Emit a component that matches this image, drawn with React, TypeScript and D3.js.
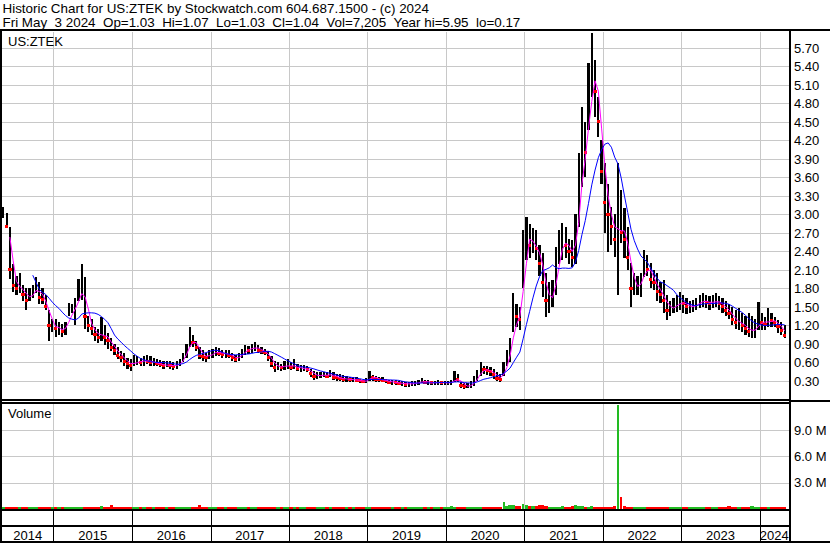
import React from "react";
import * as d3 from "d3";

// Semi-monthly periods, May 2014 - May 2024 (240 periods)
const HIGH = [
  3.12, 3.02, 2.8, 2.2, 2.0, 2.05, 1.85, 1.8, 1.8, 1.85, 1.98, 1.9, 1.8, 1.7, 1.45, 1.3,
  1.3, 1.25, 1.22, 1.25, 1.56, 1.55, 1.65, 1.95, 2.2, 1.98, 1.35, 1.3, 1.18, 1.15, 1.34, 1.2,
  1.08, 1.0, 0.9, 0.85, 0.78, 0.75, 0.68, 0.65, 0.72, 0.7, 0.68, 0.7, 0.72, 0.7, 0.68, 0.66,
  0.64, 0.62, 0.63, 0.62, 0.6, 0.62, 0.66, 0.75, 0.9, 1.18, 1.05, 0.95, 0.85, 0.8, 0.75, 0.8,
  0.82, 0.85, 0.83, 0.8, 0.8, 0.8, 0.75, 0.72, 0.75, 0.82, 0.88, 0.86, 0.9, 0.93, 0.88, 0.85,
  0.82, 0.78, 0.7, 0.62, 0.6, 0.58, 0.62, 0.65, 0.6, 0.65, 0.58, 0.56, 0.56, 0.55, 0.5, 0.46,
  0.44, 0.44, 0.45, 0.44, 0.48, 0.44, 0.42, 0.42, 0.4, 0.38, 0.37, 0.37, 0.36, 0.33, 0.32, 0.35,
  0.46, 0.4, 0.38, 0.37, 0.36, 0.34, 0.32, 0.32, 0.31, 0.3, 0.3, 0.29, 0.29, 0.3, 0.3, 0.32,
  0.35, 0.32, 0.31, 0.3, 0.3, 0.31, 0.3, 0.3, 0.3, 0.31, 0.46, 0.42, 0.28, 0.26, 0.26, 0.3,
  0.38, 0.48, 0.6, 0.55, 0.55, 0.53, 0.5, 0.45, 0.42, 0.6, 0.8, 1.0, 1.73, 1.55, 1.5, 2.75,
  2.96, 2.85, 2.78, 2.75, 2.5, 2.37, 2.05, 1.9, 1.94, 2.47, 2.75, 2.86, 2.8, 2.6, 2.59, 3.0,
  4.0, 4.74, 4.5, 5.45, 5.94, 5.5, 4.9, 4.2, 3.83, 3.5, 3.12, 3.0, 3.83, 3.4, 3.1, 2.8,
  2.21, 2.05, 2.0, 2.05, 2.42, 2.35, 2.21, 2.1, 2.05, 1.9, 1.94, 1.7, 1.6, 1.65, 1.7, 1.75,
  1.7, 1.65, 1.6, 1.62, 1.65, 1.7, 1.72, 1.7, 1.68, 1.7, 1.72, 1.68, 1.65, 1.6, 1.55, 1.5,
  1.45, 1.48, 1.4, 1.35, 1.4, 1.35, 1.3, 1.58, 1.4, 1.34, 1.48, 1.4, 1.34, 1.29, 1.25, 1.21,
];
const LOW = [
  2.95, 2.78, 1.95, 1.75, 1.7, 1.72, 1.6, 1.45, 1.6, 1.65, 1.72, 1.55, 1.55, 1.45, 0.95, 1.1,
  1.02, 1.05, 1.02, 1.05, 1.35, 1.4, 1.2, 1.6, 1.62, 1.15, 1.1, 1.05, 0.95, 0.92, 0.95, 0.88,
  0.82, 0.78, 0.72, 0.65, 0.6, 0.55, 0.5, 0.46, 0.55, 0.56, 0.54, 0.55, 0.58, 0.55, 0.55, 0.54,
  0.52, 0.5, 0.52, 0.5, 0.48, 0.5, 0.54, 0.6, 0.68, 0.85, 0.85, 0.78, 0.65, 0.62, 0.6, 0.65,
  0.68, 0.7, 0.7, 0.68, 0.68, 0.68, 0.63, 0.61, 0.62, 0.68, 0.72, 0.74, 0.76, 0.78, 0.76, 0.74,
  0.72, 0.62, 0.52, 0.45, 0.48, 0.46, 0.48, 0.5, 0.48, 0.5, 0.46, 0.45, 0.46, 0.44, 0.36, 0.32,
  0.34, 0.35, 0.36, 0.35, 0.36, 0.32, 0.3, 0.3, 0.28, 0.29, 0.28, 0.28, 0.28, 0.27, 0.26, 0.27,
  0.3, 0.3, 0.29, 0.28, 0.28, 0.26, 0.25, 0.24, 0.24, 0.23, 0.22, 0.21, 0.21, 0.22, 0.22, 0.23,
  0.26, 0.25, 0.24, 0.24, 0.24, 0.24, 0.24, 0.24, 0.24, 0.24, 0.28, 0.28, 0.18, 0.17, 0.18, 0.19,
  0.22, 0.3, 0.38, 0.42, 0.4, 0.38, 0.34, 0.3, 0.29, 0.38, 0.55, 0.6, 1.1, 1.18, 1.13, 1.8,
  2.26, 2.3, 2.37, 2.26, 2.0, 1.66, 1.34, 1.4, 1.5, 1.7, 2.2, 2.26, 2.3, 2.2, 2.15, 2.2,
  2.8, 3.44, 3.6, 4.37, 4.9, 4.58, 4.26, 3.5, 2.7, 2.39, 2.5, 2.31, 1.69, 2.54, 2.3, 2.1,
  1.5, 1.69, 1.7, 1.66, 1.99, 2.0, 1.8, 1.77, 1.6, 1.56, 1.4, 1.29, 1.35, 1.4, 1.42, 1.45,
  1.4, 1.38, 1.4, 1.42, 1.45, 1.48, 1.5, 1.48, 1.45, 1.48, 1.5, 1.45, 1.4, 1.35, 1.3, 1.2,
  1.15, 1.13, 1.1, 1.05, 1.02, 1.0, 1.0, 1.13, 1.13, 1.13, 1.18, 1.18, 1.18, 1.08, 1.05, 1.0,
];
const CLOSE = [
  3.0, 2.8, 2.1, 1.85, 1.8, 1.85, 1.7, 1.6, 1.7, 1.75, 1.85, 1.65, 1.62, 1.5, 1.2, 1.2,
  1.15, 1.15, 1.1, 1.2, 1.45, 1.45, 1.5, 1.8, 1.85, 1.35, 1.2, 1.15, 1.05, 1.0, 1.1, 1.0,
  0.95, 0.85, 0.8, 0.72, 0.68, 0.62, 0.58, 0.55, 0.62, 0.62, 0.6, 0.65, 0.62, 0.6, 0.6, 0.58,
  0.56, 0.55, 0.56, 0.55, 0.54, 0.56, 0.62, 0.7, 0.85, 1.0, 0.92, 0.85, 0.72, 0.7, 0.68, 0.75,
  0.75, 0.78, 0.75, 0.73, 0.75, 0.72, 0.68, 0.65, 0.7, 0.78, 0.82, 0.8, 0.85, 0.85, 0.8, 0.78,
  0.76, 0.68, 0.58, 0.52, 0.54, 0.52, 0.55, 0.56, 0.52, 0.55, 0.5, 0.5, 0.5, 0.48, 0.42, 0.38,
  0.38, 0.4, 0.4, 0.38, 0.42, 0.36, 0.35, 0.34, 0.33, 0.33, 0.32, 0.32, 0.31, 0.3, 0.29, 0.3,
  0.4, 0.35, 0.33, 0.32, 0.31, 0.3, 0.28, 0.28, 0.27, 0.26, 0.26, 0.25, 0.25, 0.26, 0.27, 0.28,
  0.3, 0.28, 0.28, 0.27, 0.27, 0.28, 0.27, 0.27, 0.27, 0.28, 0.36, 0.32, 0.22, 0.21, 0.22, 0.24,
  0.32, 0.42, 0.5, 0.48, 0.47, 0.45, 0.4, 0.34, 0.33, 0.52, 0.7, 0.9, 1.4, 1.35, 1.3, 2.6,
  2.7, 2.5, 2.5, 2.45, 2.2, 1.9, 1.6, 1.6, 1.75, 2.2, 2.5, 2.6, 2.5, 2.4, 2.3, 2.8,
  3.5, 4.2, 4.0, 5.0, 5.5, 5.0, 4.5, 3.7, 3.2, 3.0, 2.8, 2.6, 2.9, 2.7, 2.6, 2.3,
  1.8, 1.85, 1.85, 1.9, 2.25, 2.1, 1.95, 1.9, 1.75, 1.7, 1.6, 1.45, 1.5, 1.5, 1.55, 1.6,
  1.55, 1.5, 1.5, 1.52, 1.55, 1.6, 1.6, 1.58, 1.55, 1.6, 1.6, 1.55, 1.5, 1.45, 1.4, 1.3,
  1.25, 1.25, 1.2, 1.15, 1.1, 1.12, 1.15, 1.3, 1.25, 1.22, 1.3, 1.28, 1.25, 1.18, 1.12, 1.04,
];
// Largest daily volume in each period, millions of shares
const VOLUME = [
  0.2, 0.2, 0.2, 0.2, 0.2, 0.2, 0.2, 0.2, 0.2, 0.2, 0.2, 0.2, 0.2, 0.2, 0.2, 0.2,
  0.2, 0.2, 0.2, 0.2, 0.2, 0.2, 0.2, 0.2, 0.2, 0.2, 0.2, 0.2, 0.2, 0.2, 0.35, 0.2,
  0.2, 0.4, 0.2, 0.2, 0.2, 0.2, 0.2, 0.2, 0.2, 0.2, 0.2, 0.2, 0.2, 0.2, 0.2, 0.2,
  0.2, 0.2, 0.2, 0.2, 0.2, 0.2, 0.2, 0.2, 0.2, 0.2, 0.2, 0.2, 0.4, 0.2, 0.2, 0.2,
  0.2, 0.2, 0.2, 0.2, 0.2, 0.2, 0.2, 0.2, 0.2, 0.2, 0.2, 0.2, 0.2, 0.2, 0.2, 0.2,
  0.2, 0.2, 0.2, 0.2, 0.2, 0.2, 0.2, 0.2, 0.2, 0.2, 0.2, 0.2, 0.2, 0.2, 0.2, 0.2,
  0.2, 0.2, 0.2, 0.2, 0.2, 0.2, 0.2, 0.2, 0.2, 0.2, 0.2, 0.2, 0.2, 0.2, 0.2, 0.2,
  0.2, 0.2, 0.2, 0.2, 0.2, 0.2, 0.2, 0.2, 0.2, 0.2, 0.2, 0.2, 0.2, 0.2, 0.2, 0.2,
  0.2, 0.2, 0.2, 0.2, 0.2, 0.2, 0.2, 0.2, 0.2, 0.35, 0.2, 0.2, 0.2, 0.2, 0.2, 0.2,
  0.2, 0.2, 0.2, 0.2, 0.2, 0.2, 0.2, 0.2, 0.2, 0.8, 0.35, 0.4, 0.5, 0.3, 0.35, 0.6,
  0.45, 0.3, 0.35, 0.3, 0.45, 0.4, 0.3, 0.2, 0.2, 0.2, 0.25, 0.3, 0.2, 0.25, 0.3, 0.5,
  0.35, 0.3, 0.2, 0.25, 0.3, 0.2, 0.2, 0.2, 0.2, 0.2, 0.2, 0.35, 11.9, 1.35, 0.3, 0.2,
  0.2, 0.2, 0.2, 0.2, 0.2, 0.2, 0.2, 0.2, 0.2, 0.2, 0.2, 0.2, 0.2, 0.2, 0.2, 0.2,
  0.2, 0.2, 0.2, 0.2, 0.2, 0.2, 0.2, 0.2, 0.2, 0.2, 0.2, 0.2, 0.2, 0.2, 0.35, 0.2,
  0.2, 0.2, 0.2, 0.2, 0.2, 0.35, 0.2, 0.2, 0.2, 0.2, 0.2, 0.2, 0.2, 0.2, 0.2, 0.2,
];

const PRICE_TICKS = [0.3, 0.6, 0.9, 1.2, 1.5, 1.8, 2.1, 2.4, 2.7, 3.0, 3.3, 3.6, 3.9, 4.2, 4.5, 4.8, 5.1, 5.4, 5.7];
const VOLUME_TICKS = [3, 6, 9];
const YEAR_LABELS = ["2014", "2015", "2016", "2017", "2018", "2019", "2020", "2021", "2022", "2023", "2024"];
const MA_SHORT = 3;
const MA_LONG = 10;

const HEADER1 = "Historic Chart for US:ZTEK by Stockwatch.com 604.687.1500 - (c) 2024";
const HEADER2 = "Fri May  3 2024  Op=1.03  Hi=1.07  Lo=1.03  Cl=1.04  Vol=7,205  Year hi=5.95  lo=0.17";

const START = new Date(2014, 4, 5);
const END = new Date(2024, 4, 4);

export default function App() {
  const W = 830;
  const H = 543;
  const FONT = "'Liberation Sans', Arial, sans-serif";
  const RIGHT = 789;

  const x = d3.scaleTime().domain([START, END]).range([1.7, 786.3]);
  const y = d3.scaleLinear().domain([0, 5.95]).range([399.5, 32.5]);
  const yv = d3.scaleLinear().domain([0, 12.3]).range([509, 401]);

  const n = CLOSE.length;
  const span = END.getTime() - START.getTime();
  const dates = d3.range(n).map((i) => new Date(START.getTime() + ((i + 0.5) * span) / n));
  const step = x(new Date(START.getTime() + span / n)) - x(START);

  const ma = (k: number) =>
    CLOSE.map((_, i) => (i < k - 1 ? null : (d3.mean(CLOSE.slice(i - k + 1, i + 1)) as number)));
  const maS = ma(MA_SHORT);
  const maL = ma(MA_LONG);
  const line = d3
    .line<[number, number | null]>()
    .defined((d) => d[1] != null)
    .x((d) => d[0])
    .y((d) => y(d[1] as number));
  const ptsS = dates.map((d, i) => [x(d), maS[i]] as [number, number | null]);
  const ptsL = dates.map((d, i) => [x(d), maL[i]] as [number, number | null]);

  const yearBounds = d3.timeYear.range(new Date(2015, 0, 1), END).map((d) => x(d));
  const edges = [2, ...yearBounds, RIGHT];

  const grid = "#c8c8c8";
  const bw = 2.2;

  return (
    <svg
      width={W}
      height={H}
      style={{ position: "absolute", left: 0, top: 0, background: "#fff" }}
      fontFamily={FONT}
    >
      <rect x={0} y={0} width={W} height={H} fill="#fff" />
      {/* header */}
      <text x={2.5} y={12.5} fontSize={13.4} fill="#000" xmlSpace="preserve" style={{ whiteSpace: "pre" }}>
        {HEADER1}
      </text>
      <text x={2.5} y={26.5} fontSize={13.4} fill="#000" xmlSpace="preserve" style={{ whiteSpace: "pre" }}>
        {HEADER2}
      </text>

      {/* grids */}
      <g shapeRendering="crispEdges">
        {PRICE_TICKS.map((t) => (
          <line key={t} x1={2} x2={RIGHT} y1={Math.round(y(t)) + 0.5} y2={Math.round(y(t)) + 0.5} stroke={grid} />
        ))}
        {yearBounds.map((b, i) => (
          <line key={i} x1={Math.round(b) + 0.5} x2={Math.round(b) + 0.5} y1={32} y2={399} stroke={grid} />
        ))}
        {VOLUME_TICKS.map((t) => (
          <line key={t} x1={2} x2={RIGHT} y1={Math.round(yv(t)) + 0.5} y2={Math.round(yv(t)) + 0.5} stroke={grid} />
        ))}
        {yearBounds.map((b, i) => (
          <line key={"v" + i} x1={Math.round(b) + 0.5} x2={Math.round(b) + 0.5} y1={404} y2={509} stroke={grid} />
        ))}
      </g>

      {/* price bars: high-low range, red tick at close on falling periods */}
      <g shapeRendering="crispEdges">
        {dates.map((d, i) => (
          <rect
            key={i}
            x={x(d) - bw / 2}
            y={y(HIGH[i])}
            width={bw}
            height={Math.max(1, y(LOW[i]) - y(HIGH[i]))}
            fill="#000"
          />
        ))}
        {dates.map((d, i) =>
          i > 0 && CLOSE[i] < CLOSE[i - 1] ? (
            <rect key={"c" + i} x={x(d) - step / 2} y={y(CLOSE[i]) - 1.5} width={step} height={3} fill="#ff0000" />
          ) : null
        )}
      </g>

      {/* moving averages */}
      <path d={line(ptsS) || ""} fill="none" stroke="#ff00ff" strokeWidth={1} />
      <path d={line(ptsL) || ""} fill="none" stroke="#0000ff" strokeWidth={1} />

      {/* volume */}
      <g shapeRendering="crispEdges">
        {dates.map((d, i) => {
          const up = i === 0 || CLOSE[i] >= CLOSE[i - 1];
          const w = VOLUME[i] > 0.5 ? 2 : step;
          return (
            <rect
              key={i}
              x={x(d) - w / 2}
              y={yv(VOLUME[i])}
              width={w}
              height={yv(0) - yv(VOLUME[i])}
              fill={up ? "#22bb22" : "#ff0000"}
            />
          );
        })}
      </g>

      {/* frame */}
      <g fill="#000" shapeRendering="crispEdges">
        <rect x={0} y={29} width={W} height={2} />
        <rect x={0} y={29} width={2} height={H - 29} />
        <rect x={RIGHT} y={29} width={2} height={H - 29} />
        <rect x={0} y={399} width={RIGHT} height={2} />
        <rect x={0} y={402} width={RIGHT} height={2} />
        <rect x={RIGHT} y={400} width={W - RIGHT} height={2} />
        <rect x={0} y={509} width={RIGHT} height={2} />
        <rect x={0} y={525} width={RIGHT} height={2} />
        <rect x={0} y={541} width={W} height={2} />
        {yearBounds.map((b, i) => (
          <rect key={i} x={Math.round(b)} y={511} width={1} height={30} />
        ))}
      </g>

      {/* labels */}
      <text x={8} y={46} fontSize={13} fill="#000">US:ZTEK</text>
      <text x={8} y={418} fontSize={13} fill="#000">Volume</text>
      {PRICE_TICKS.map((t) => (
        <text key={t} x={794} y={y(t) + 4.7} fontSize={13} fill="#000">
          {t.toFixed(2)}
        </text>
      ))}
      {VOLUME_TICKS.map((t) => (
        <text key={t} x={794} y={yv(t) + 4.7} fontSize={13} fill="#000">
          {t.toFixed(1) + " M"}
        </text>
      ))}
      {YEAR_LABELS.map((l, i) => (
        <text key={l} x={(edges[i] + edges[i + 1]) / 2} y={539.5} fontSize={13} textAnchor="middle" fill="#000">
          {l}
        </text>
      ))}
    </svg>
  );
}
